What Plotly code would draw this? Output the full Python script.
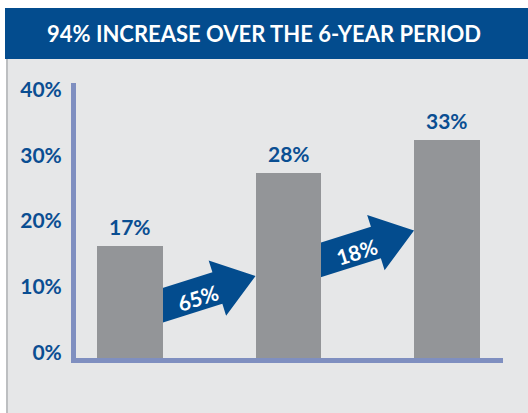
import math
import plotly.graph_objects as go

# ---- data ----
categories = ["Year 1", "Year 4", "Year 6"]
values = [17, 28, 33]
tick_values = [0, 10, 20, 30, 40]
tick_labels = ["0%", "10%", "20%", "30%", "40%"]
title_text = "94% INCREASE OVER THE 6-YEAR PERIOD"
growth_labels = [f"{round((values[i+1]-values[i])/values[i]*100)}%" for i in range(len(values)-1)]

# ---- style / layout constants ----
W, H = 528, 413
L, R_M, T, B = 76, 25, 83, 55
PW, PH = W - L - R_M, H - T - B
X_RANGE = [-0.3407, -0.3407 + PW / 158.5]
Y_MAX = 41.7
BAR_W = 0.416
BLUE = "#034C8E"
TEXT_BLUE = "#0A4E92"
AXIS_COL = "#7F8FC0"
BAR_COL = "#939598"
PANEL = "#E6E7E8"
FONT = "Lato"

xs = list(range(len(categories)))


# pixel <-> data helpers
def px_x(x):
    return L + (x - X_RANGE[0]) / (X_RANGE[1] - X_RANGE[0]) * PW

def px_y(y):
    return T + PH - y / Y_MAX * PH

def dx(px):
    return X_RANGE[0] + (px - L) / PW * (X_RANGE[1] - X_RANGE[0])

def dy(py):
    return (T + PH - py) / PH * Y_MAX

def paper_x(px):
    return (px - L) / PW

def paper_y(py):
    return (T + PH - py) / PH


fig = go.Figure()
fig.add_trace(go.Bar(
    x=xs, y=values, width=BAR_W, marker=dict(color=BAR_COL, line=dict(width=0)),
    hoverinfo="skip", showlegend=False,
))

shapes = []
annotations = []

# panel background and left border
shapes.append(dict(type="rect", xref="paper", yref="paper", layer="below",
                   x0=paper_x(6), x1=paper_x(W + 2), y0=paper_y(H + 2), y1=paper_y(59),
                   fillcolor=PANEL, line=dict(width=0)))
shapes.append(dict(type="rect", xref="paper", yref="paper", layer="below",
                   x0=paper_x(6), x1=paper_x(8), y0=paper_y(H + 2), y1=paper_y(59),
                   fillcolor="#BDBFC1", line=dict(width=0)))
# title bar
shapes.append(dict(type="rect", xref="paper", yref="paper", layer="below",
                   x0=paper_x(5), x1=paper_x(W + 2), y0=paper_y(59), y1=paper_y(8),
                   fillcolor=BLUE, line=dict(width=0)))
annotations.append(dict(xref="paper", yref="paper", x=paper_x(263.5), y=paper_y(34),
                        text=f"<b>{title_text}</b>", showarrow=False,
                        xanchor="center", yanchor="middle",
                        font=dict(family=FONT, size=22, color="white")))

# value labels above bars
for x, v in zip(xs, values):
    annotations.append(dict(x=x, y=v, xref="x", yref="y", text=f"<b>{v}%</b>",
                            showarrow=False, yanchor="bottom", yshift=5,
                            font=dict(family=FONT, size=21, color=TEXT_BLUE)))

# growth arrows between bars
ANG = math.radians(17.5)
ux, uy = math.cos(ANG), -math.sin(ANG)
nx, ny = math.sin(ANG), math.cos(ANG)
H_BODY, H_HEAD, L_HEAD = 16.5, 29, 40
start_levels = [8.0, 14.9]
for i, lab in enumerate(growth_labels):
    sx = px_x(xs[i] + BAR_W / 2)
    sy = px_y(start_levels[i])
    tx = px_x(xs[i + 1] - BAR_W / 2)
    ty = sy - math.tan(ANG) * (tx - sx)
    # back-extend start under the bar
    s0x, s0y = sx - ux * 6, sy - uy * 6
    bx, by = tx - ux * L_HEAD, ty - uy * L_HEAD
    pts = [
        (s0x - nx * H_BODY, s0y - ny * H_BODY),
        (bx - nx * H_BODY, by - ny * H_BODY),
        (bx - nx * H_HEAD, by - ny * H_HEAD),
        (tx, ty),
        (bx + nx * H_HEAD, by + ny * H_HEAD),
        (bx + nx * H_BODY, by + ny * H_BODY),
        (s0x + nx * H_BODY, s0y + ny * H_BODY),
    ]
    path = "M " + " L ".join(f"{dx(p[0]):.5f},{dy(p[1]):.5f}" for p in pts) + " Z"
    shapes.append(dict(type="path", xref="x", yref="y", layer="below", path=path,
                       fillcolor=BLUE, line=dict(width=0)))
    seg = math.hypot(tx - sx, ty - sy)
    cx, cy = sx + ux * seg * 0.38, sy + uy * seg * 0.38 + 3
    annotations.append(dict(x=dx(cx), y=dy(cy), xref="x", yref="y", text=f"<b>{lab}</b>",
                            showarrow=False, textangle=-17.5,
                            xanchor="center", yanchor="middle",
                            font=dict(family=FONT, size=21, color="white")))

fig.update_layout(
    width=W, height=H,
    margin=dict(l=L, r=R_M, t=T, b=B, pad=0),
    paper_bgcolor="white",
    plot_bgcolor="rgba(0,0,0,0)",
    shapes=shapes,
    annotations=annotations,
    bargap=0,
    xaxis=dict(range=X_RANGE, showticklabels=False, showgrid=False, zeroline=False,
               showline=True, linecolor=AXIS_COL, linewidth=5, ticks="", fixedrange=True),
    yaxis=dict(range=[0, Y_MAX], tickvals=tick_values, ticktext=[f"<b>{t}</b>" for t in tick_labels],
               showgrid=False, zeroline=False, showline=True, linecolor=AXIS_COL, linewidth=5,
               ticks="", ticklabelshift=-5, ticklabelstandoff=5,
               tickfont=dict(family=FONT, size=21, color=TEXT_BLUE), fixedrange=True),
    showlegend=False,
)

fig.write_html("out.html", config={"displayModeBar": False})
